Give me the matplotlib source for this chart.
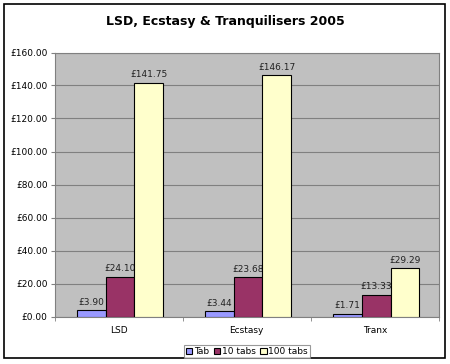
import numpy as np
import matplotlib.pyplot as plt
from matplotlib.patches import Rectangle

categories = ['LSD', 'Ecstasy', 'Tranx']
series = ['Tab', '10 tabs', '100 tabs']
tab = [3.90, 3.44, 1.71]
ten_tabs = [24.10, 23.68, 13.33]
hundred_tabs = [141.75, 146.17, 29.29]
colors = ['#9999FF', '#993366', '#FFFFCC']

fig = plt.figure(figsize=(4.5, 3.64), dpi=100)
fig.patches.append(Rectangle((4/450, 1 - 358/364), 441/450, 354/364, transform=fig.transFigure,
                             fill=False, edgecolor='black', linewidth=1.2))

ax = fig.add_axes([54.5/450, 1 - 316.5/364, (439 - 54.5)/450, (316.5 - 52.5)/364])
ax.set_facecolor('#C0C0C0')

x = np.arange(len(categories))
w = 0.224
for i, (vals, name) in enumerate(zip([tab, ten_tabs, hundred_tabs], series)):
    pos = x + (i - 1) * w + 0.01
    ax.bar(pos, vals, w, color=colors[i], edgecolor='black', linewidth=0.8, label=name, zorder=3)
    for p, v in zip(pos, vals):
        ax.text(p, v + 2, '£%.2f' % v, ha='center', va='bottom', fontsize=6.5, color='#222222')

ax.set_xlim(-0.5, 2.5)
ax.set_ylim(0, 160)
ax.set_yticks(np.arange(0, 161, 20))
ax.set_yticklabels(['£%.2f' % t for t in np.arange(0, 161, 20)], fontsize=6.5)
ax.yaxis.grid(True, color='#808080', linewidth=0.8, zorder=0)
ax.set_xticks(x)
ax.set_xticklabels(categories, fontsize=6.5)
ax.tick_params(axis='x', length=0, pad=7)
ax.set_xticks([-0.5, 0.5, 1.5, 2.5], minor=True)
ax.tick_params(axis='x', which='minor', length=3, color='#808080')
ax.tick_params(axis='y', length=3, color='#808080', pad=2)
for s in ['top', 'right', 'left', 'bottom']:
    ax.spines[s].set_color('#808080')

fig.text(0.5, 1 - 22/364, 'LSD, Ecstasy & Tranquilisers 2005', ha='center', va='center',
         fontsize=9, fontweight='bold')

leg = fig.legend(loc='center', bbox_to_anchor=(247/450, 1 - 351.5/364), ncol=3, fontsize=6.5,
                 frameon=True, fancybox=False, edgecolor='#808080', handlelength=0.7,
                 handleheight=0.7, handletextpad=0.2, columnspacing=0.5, borderpad=0.25)
leg.get_frame().set_linewidth(0.8)

fig.savefig('out.png', dpi=100)
